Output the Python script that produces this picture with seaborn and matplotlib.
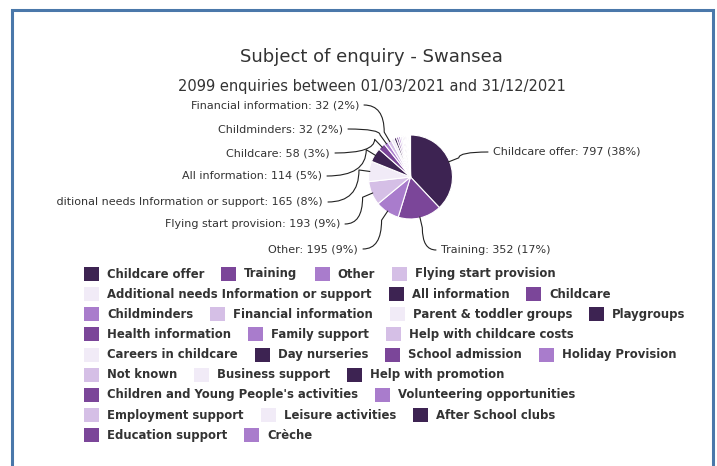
import matplotlib
matplotlib.use("Agg")
import numpy as np
import pandas as pd
import seaborn as sns
import matplotlib.pyplot as plt
from matplotlib.patches import Rectangle, PathPatch
from matplotlib.path import Path
from matplotlib.transforms import Bbox, TransformedBbox

# Enquiry subjects, in the order they are counted and stacked around the pie
subjects = [
    "Childcare offer", "Training", "Other", "Flying start provision",
    "Additional needs Information or support", "All information", "Childcare",
    "Childminders", "Financial information", "Parent & toddler groups",
    "Playgroups", "Health information", "Family support",
    "Help with childcare costs", "Careers in childcare", "Day nurseries",
    "School admission", "Holiday Provision", "Not known", "Business support",
    "Help with promotion", "Children and Young People's activities",
    "Volunteering opportunities", "Employment support", "Leisure activities",
    "After School clubs", "Education support", "Crèche",
]
enquiries = [797, 352, 195, 193, 165, 114, 58, 32, 32, 26, 20, 17, 15, 13,
             11, 10, 9, 8, 7, 6, 5, 4, 3, 2, 2, 1, 1, 1]
period_start = "01/03/2021"
period_end = "31/12/2021"
area = "Swansea"

df = pd.DataFrame({"subject": subjects, "enquiries": enquiries})
total = int(df["enquiries"].sum())

sns.set_style("white")
plt.rcParams["font.family"] = ["DejaVu Sans"]

W, H = 717, 466
fig = plt.figure(figsize=(W / 100, H / 100), dpi=100)
ax = fig.add_axes([0, 0, 1, 1])

palette = sns.color_palette(["#3d2352", "#7b4699", "#a97ccc", "#d5bfe6", "#f1ebf7"])
colors = [palette[i % len(palette)] for i in range(len(df))]

cx, cy, r = 410.5, H - 177, 42
wedges, _ = ax.pie(df["enquiries"], colors=colors, startangle=90,
                   counterclock=False, radius=r, center=(cx, cy),
                   wedgeprops=dict(edgecolor="white", linewidth=0.8))
ax.set_xlim(0, W)
ax.set_ylim(0, H)
ax.set_aspect("auto")
ax.axis("off")

text_col = "#333333"

# Frame around the chart
ax.plot([11.5, 11.5, 712.5, 712.5], [-5, H - 10, H - 10, -5],
        color="#4a78aa", lw=2.2, solid_joinstyle="miter")

ax.text(371, H - 57, f"Subject of enquiry - {area}", fontsize=13,
        ha="center", va="center", color=text_col)
ax.text(372, H - 87, f"{total} enquiries between {period_start} and {period_end}",
        fontsize=10.5, ha="center", va="center", color=text_col)

# Data label placement (text anchor in pixels from the top-left, alignment)
label_anchor = {
    "Childcare offer": (493, 152, "left"),
    "Training": (441, 250, "left"),
    "Other": (358, 249, "right"),
    "Flying start provision": (340, 224, "right"),
    "Additional needs Information or support": (323, 202, "right"),
    "All information": (322, 176, "right"),
    "Childcare": (330, 153, "right"),
    "Childminders": (343, 129, "right"),
    "Financial information": (359, 105, "right"),
}

clip = TransformedBbox(Bbox.from_extents(57, 0, W, H), ax.transData)
for i, row in df.iterrows():
    name, val = row["subject"], row["enquiries"]
    if name not in label_anchor:
        continue
    lx, ly, ha = label_anchor[name]
    ly = H - ly
    t = ax.text(lx, ly, f"{name}: {val} ({val / total:.0%})", fontsize=8,
                ha=ha, va="center", color=text_col)
    t.set_clip_box(clip)
    t.set_clip_on(True)

    w = wedges[i]
    mid = np.deg2rad((w.theta1 + w.theta2) / 2)
    side = 1 if ha == "right" else -1
    p0 = (lx + 5 * side, ly)
    p2 = (cx + (r + 10) * np.cos(mid), cy + (r + 10) * np.sin(mid))
    p3 = (cx + (r - 1) * np.cos(mid), cy + (r - 1) * np.sin(mid))
    path = Path([p0, (p2[0], p0[1]), p2, p3],
                [Path.MOVETO, Path.CURVE3, Path.CURVE3, Path.LINETO])
    ax.add_patch(PathPatch(path, fill=False, edgecolor="#222222", lw=0.8,
                           capstyle="round", joinstyle="round"))

# Legend, flowing left to right and wrapping to new rows
renderer = fig.canvas.get_renderer()
x0, x_max = 84, 695
x, line = x0, 0
for i, name in enumerate(df["subject"]):
    t = ax.text(0, 0, name, fontsize=8.35, fontweight="bold", color=text_col,
                ha="left", va="center")
    tw = t.get_window_extent(renderer).width
    item_w = 23 + tw
    if x + item_w > x_max and x > x0:
        line += 1
        x = x0
    y = H - (274 + line * 20.15)
    ax.add_patch(Rectangle((x, y - 7), 15, 14, facecolor=colors[i], lw=0))
    t.set_position((x + 23, y))
    x += item_w + 17

fig.savefig("out.png", dpi=100, facecolor="white")
